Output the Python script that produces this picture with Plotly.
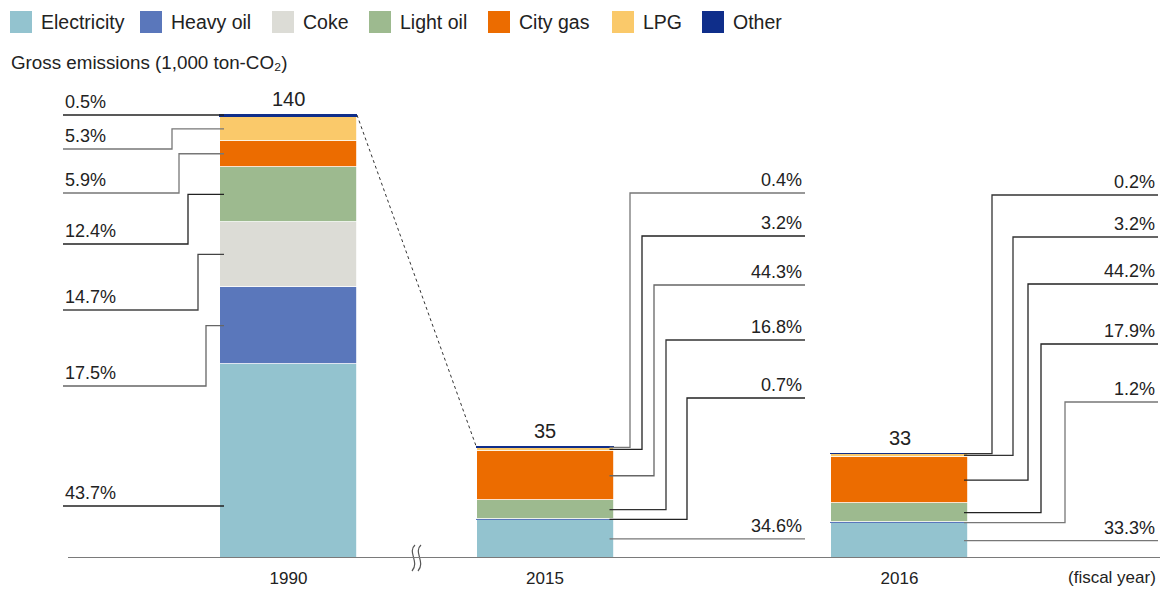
import plotly.graph_objects as go

# ---------------- data ----------------
years = ["1990", "2015", "2016"]
totals = [140, 35, 33]
series = ["Electricity", "Heavy oil", "Coke", "Light oil", "City gas", "LPG", "Other"]
pct_electricity = [43.7, 34.6, 33.3]
pct_heavy_oil = [17.5, 0.7, 1.2]
pct_coke = [14.7, 0.0, 0.0]
pct_light_oil = [12.4, 16.8, 17.9]
pct_city_gas = [5.9, 44.3, 44.2]
pct_lpg = [5.3, 3.2, 3.2]
pct_other = [0.5, 0.4, 0.2]
pct_all = [pct_electricity, pct_heavy_oil, pct_coke, pct_light_oil,
           pct_city_gas, pct_lpg, pct_other]

# ---------------- style / layout ----------------
colors = ["#93c3cf", "#5a77bb", "#dcdcd6", "#9dba8f", "#ec6c00", "#fac96a", "#0f2e8a"]
FONT = "Liberation Sans, Arial, Helvetica, sans-serif"
TXT = "#222222"
W, H = 1163, 590
BASE_PX = 558                 # pixel row of the baseline
PPU = 443 / 140               # pixels per 1,000 t
bar_x = [288.5, 545, 899.5]
bar_w = 137


def py(p):
    """pixel row -> data y"""
    return (BASE_PX - p) / PPU


def pp(p):
    """pixel row -> paper y (plot area spans rows 0..BASE_PX)"""
    return (BASE_PX - p) / BASE_PX


values = [[t * p / 100 for t, p in zip(totals, pcts)] for pcts in pct_all]

fig = go.Figure()
for name, col, vals in zip(series, colors, values):
    # thin segments get an outline in their own colour so they stay visible
    lc, lw = [], []
    for b, v in enumerate(vals):
        thin = v * PPU < 2.5
        lc.append(col if thin else "white")
        lw.append(1.2 if thin else 0.8)
    fig.add_trace(go.Bar(
        x=bar_x, y=vals, width=bar_w, name=name,
        marker=dict(color=col, line=dict(color=lc, width=lw)),
        showlegend=False, hoverinfo="skip"))

# dashed connector 1990 -> 2015
fig.add_trace(go.Scatter(
    x=[bar_x[0] + bar_w / 2, bar_x[1] - bar_w / 2], y=[totals[0], totals[1]],
    mode="lines", line=dict(color="#333333", width=1, dash="3px,3px"),
    showlegend=False, hoverinfo="skip"))

# leader-line layout: per bar, per series (bottom->top order) : (elbow_x, label_y_px, color)
side = ["left", "right", "right"]
label_end = [63, 805, 1158]
leader_layout = [
    # 1990
    [(None, 506, "#222"), (206, 386, "#666"), (198, 310, "#444"), (188, 244, "#222"),
     (179, 193, "#777"), (172, 149, "#777"), (None, None, "#222")],
    # 2015
    [(None, None, "#777"), (687, 398, "#222"), None, (666, 340, "#333"),
     (654, 285, "#666"), (642, 236, "#222"), (630, 193, "#777")],
    # 2016
    [(None, None, "#777"), (1065, 402, "#777"), None, (1041, 344, "#222"),
     (1028, 284, "#222"), (1013, 237, "#333"), (992, 195, "#333")],
]

annotations = []
shapes = []
for b in range(3):
    cum = 0.0
    for s in range(len(series)):
        v = values[s][b]
        lay = leader_layout[b][s]
        lo, hi = cum, cum + v
        cum = hi
        if lay is None:
            continue
        elbow, lab_px, lcol = lay
        mid = (lo + hi) / 2
        if side[b] == "left":
            x_bar = bar_x[b] - bar_w / 2 + 4
        else:
            x_bar = bar_x[b] + bar_w / 2 - 4
        if elbow is None:
            if lab_px is None:
                ly = hi if s == len(series) - 1 else mid
            else:
                ly = py(lab_px)
            xs = [x_bar, label_end[b]]
            ys = [ly, ly]
        else:
            ly = py(lab_px)
            xs = [x_bar, elbow, elbow, label_end[b]]
            ys = [mid, mid, ly, ly]
        fig.add_trace(go.Scatter(x=xs, y=ys, mode="lines",
                                 line=dict(color=lcol, width=1.3),
                                 showlegend=False, hoverinfo="skip"))
        annotations.append(dict(
            x=label_end[b] + (0 if side[b] == "left" else -1), y=ly,
            xref="x", yref="y", showarrow=False,
            text=f"{pct_all[s][b]:.1f}%",
            xanchor="left" if side[b] == "left" else "right", yanchor="bottom",
            yshift=1, font=dict(family=FONT, size=18, color=TXT)))

# totals above bars
for b in range(3):
    annotations.append(dict(
        x=bar_x[b], y=totals[b], xref="x", yref="y", showarrow=False,
        text=str(totals[b]), xanchor="center", yanchor="bottom", yshift=3,
        font=dict(family=FONT, size=20, color=TXT)))

# legend (manual, large swatches)
legend_x = [10, 140, 272, 369, 488, 612, 702]
for name, col, lx in zip(series, colors, legend_x):
    shapes.append(dict(type="rect", xref="x", yref="y",
                       x0=lx, x1=lx + 22, y0=py(33), y1=py(11),
                       fillcolor=col, line=dict(width=0)))
    annotations.append(dict(x=lx + 29, y=py(22), xref="x", yref="y",
                            showarrow=False, text=name, xanchor="left",
                            yanchor="middle",
                            font=dict(family=FONT, size=19.5, color=TXT)))

annotations.append(dict(x=9, y=py(62), xref="x", yref="y", showarrow=False,
                        text="Gross emissions (1,000 ton-CO₂)", xanchor="left",
                        yanchor="middle", font=dict(family=FONT, size=18.8, color=TXT)))
annotations.append(dict(x=1158 / W, y=pp(578), xref="paper", yref="paper",
                        showarrow=False, text="(fiscal year)", xanchor="right",
                        yanchor="middle", font=dict(family=FONT, size=17, color=TXT)))

# axis break mark: two S-shaped strokes (paper coords)
for dx in (0, 6):
    x0 = 415 + dx
    path = (f"M {x0 / W},{pp(545)} "
            f"C {(x0 - 8) / W},{pp(552)} {(x0 + 5) / W},{pp(562)} {(x0 - 3) / W},{pp(571)}")
    shapes.append(dict(type="path", xref="paper", yref="paper", path=path,
                       line=dict(color="#555555", width=1.2), layer="above"))

# baseline
shapes.append(dict(type="line", xref="x", yref="y", x0=68, x1=1160, y0=0, y1=0,
                   line=dict(color="#7a7a7a", width=2), layer="above"))

fig.update_layout(
    width=W, height=H, barmode="stack", bargap=0,
    margin=dict(l=0, r=0, t=0, b=H - BASE_PX),
    plot_bgcolor="white", paper_bgcolor="white",
    xaxis=dict(range=[0, W], tickvals=bar_x, ticktext=years, showgrid=False,
               zeroline=False, showline=False, ticks="", ticklabelstandoff=8,
               tickfont=dict(family=FONT, size=17, color=TXT), fixedrange=True),
    yaxis=dict(range=[0, BASE_PX / PPU], visible=False, fixedrange=True),
    annotations=annotations, shapes=shapes, showlegend=False,
)

fig.write_html("out.html", config={"displayModeBar": False},
               post_script="document.body.style.margin='0';document.body.style.overflow='hidden';")
